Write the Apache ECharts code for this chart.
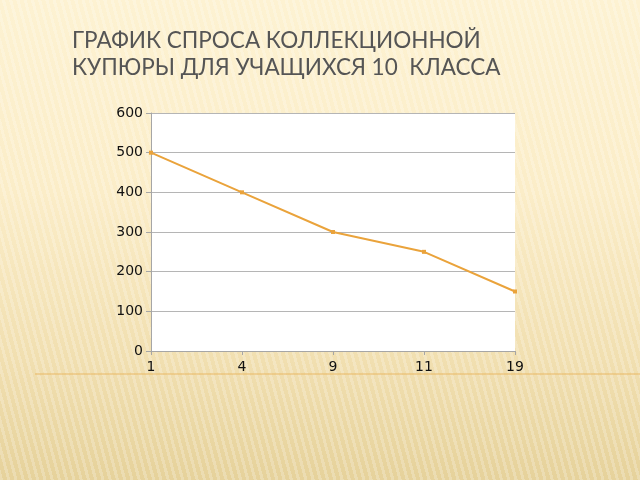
<!DOCTYPE html>
<html>
<head>
<meta charset="utf-8">
<style>
  html, body { margin: 0; padding: 0; }
  body {
    width: 640px; height: 480px; overflow: hidden;
    background:
      repeating-linear-gradient(75deg, rgba(255,255,255,0.22) 0px, rgba(255,255,255,0.22) 3px, rgba(0,0,0,0) 3px, rgba(0,0,0,0) 7px),
      linear-gradient(180deg, #fdf2d2 0%, #fbedc8 40%, #f1dfb0 75%, #e6d29b 100%);
  }
  #chart { width: 640px; height: 480px; }
</style>
<script src="https://cdn.jsdelivr.net/npm/echarts@6/dist/echarts.min.js"></script>
</head>
<body>
<div id="chart"></div>
<script>
// данные графика
const categories = ['1', '4', '9', '11', '19']
const demand = [500, 400, 300, 250, 150]
const titleLines = ['ГРАФИК СПРОСА КОЛЛЕКЦИОННОЙ', 'КУПЮРЫ ДЛЯ УЧАЩИХСЯ 10  КЛАССА']

const chart = echarts.init(document.getElementById('chart'), null, { renderer: 'canvas' })

chart.setOption({
  animation: false,
  backgroundColor: 'transparent',
  title: {
    text: titleLines.join('\n'),
    left: 67,
    top: 22,
    textStyle: {
      fontFamily: 'Lato',
      fontWeight: 'normal',
      fontSize: 22.5,
      lineHeight: 27,
      color: '#555555'
    }
  },
  grid: {
    left: 151, right: 125, top: 113, bottom: 129,
    show: true, backgroundColor: '#ffffff', borderWidth: 0
  },
  graphic: [
    {
      type: 'line',
      shape: { x1: 35, y1: 374, x2: 640, y2: 374 },
      style: { stroke: '#e9b865', lineWidth: 1 },
      z: -1
    }
  ],
  xAxis: {
    type: 'category',
    data: categories,
    boundaryGap: false,
    axisLine: { lineStyle: { color: '#a6a6a6', width: 1 } },
    axisTick: { show: true, alignWithLabel: true, length: 4, lineStyle: { color: '#a6a6a6' } },
    axisLabel: { fontFamily: 'DejaVu Sans', fontSize: 14, color: '#111', margin: 9 },
    splitLine: { show: false }
  },
  yAxis: {
    type: 'value',
    min: 0,
    max: 600,
    interval: 100,
    axisLine: { show: true, lineStyle: { color: '#a6a6a6', width: 1 } },
    axisTick: { show: true, length: 5, lineStyle: { color: '#a6a6a6' } },
    axisLabel: { fontFamily: 'DejaVu Sans', fontSize: 14, color: '#111', margin: 8 },
    splitLine: { lineStyle: { color: '#b5b5b5', width: 1 } }
  },
  series: [
    {
      type: 'line',
      data: demand,
      symbol: 'rect',
      symbolSize: 4,
      itemStyle: { color: '#eaa33b' },
      lineStyle: { color: '#eaa33b', width: 2 }
    }
  ]
})
</script>
</body>
</html>
